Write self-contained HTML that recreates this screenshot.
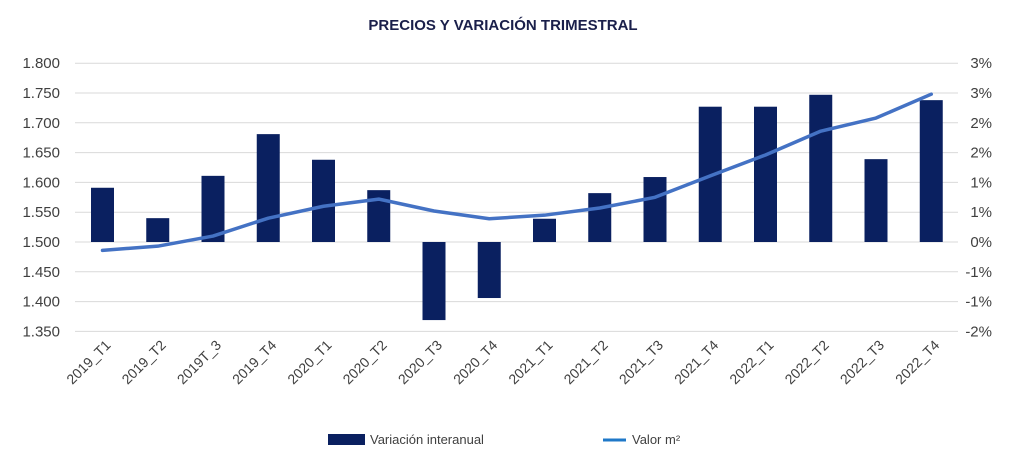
<!DOCTYPE html>
<html><head><meta charset="utf-8"><style>
body{margin:0;background:#fff;}
svg{display:block;font-family:"Liberation Sans","DejaVu Sans",sans-serif;}
</style></head><body>
<svg width="1019" height="472" viewBox="0 0 1019 472">
<text x="503" y="30" text-anchor="middle" font-size="15" font-weight="bold" fill="#1a1f4a">PRECIOS Y VARIACIÓN TRIMESTRAL</text>
<g id="grid"></g><g id="bars"></g><g id="line"></g><g id="axes"></g>
<g>
<rect x="328" y="434" width="37" height="11" fill="#0a2060"/>
<text x="370" y="444" font-size="13" fill="#404040">Variación interanual</text>
<line x1="603" y1="440" x2="626" y2="440" stroke="#1f78c8" stroke-width="3"/>
<text x="632" y="444" font-size="13" fill="#404040">Valor m²</text>
</g>
</svg>
<script>
const categories=["2019_T1","2019_T2","2019T_3","2019_T4","2020_T1","2020_T2","2020_T3","2020_T4","2021_T1","2021_T2","2021_T3","2021_T4","2022_T1","2022_T2","2022_T3","2022_T4"];
const variation=[0.91,0.40,1.11,1.81,1.38,0.87,-1.31,-0.94,0.39,0.82,1.09,2.27,2.27,2.47,1.39,2.38];
const price=[1486,1493,1510,1540,1560,1572,1552,1539,1545,1557,1575,1611,1646,1686,1708,1748];
const leftTicks=[1350,1400,1450,1500,1550,1600,1650,1700,1750,1800];
const leftTickLabels=["1.350","1.400","1.450","1.500","1.550","1.600","1.650","1.700","1.750","1.800"];
const rightTicks=[-1.5,-1,-0.5,0,0.5,1,1.5,2,2.5,3];
const rightTickLabels=["-2%","-1%","-1%","0%","1%","1%","2%","2%","3%","3%"];
const NS="http://www.w3.org/2000/svg";
const yL=v=>242-(v-1500)/50*29.8;
const yR=v=>242-v*59.6;
const xC=i=>102.5+i*55.25;
function mk(tag,attrs,parent){const e=document.createElementNS(NS,tag);for(const k in attrs)e.setAttribute(k,attrs[k]);document.getElementById(parent).appendChild(e);return e;}
leftTicks.forEach((t,i)=>{
 const g=mk('line',{x1:75,x2:958,y1:yL(t),y2:yL(t),stroke:'#d9d9d9','stroke-width':1},'grid');
 
 
 const l=mk('text',{x:60,y:yL(t)+5,'text-anchor':'end','font-size':15,fill:'#404040'},'axes');
 l.textContent=leftTickLabels[i];
 
 
});
rightTicks.forEach((t,i)=>{
 const l=mk('text',{x:992,y:yR(t)+5,'text-anchor':'end','font-size':15,fill:'#404040'},'axes');
 l.textContent=rightTickLabels[i];
 
 
});
variation.forEach((v,i)=>{
 const y0=yR(0),y1=yR(v);
 const b=mk('rect',{x:xC(i)-11.5,y:Math.min(y0,y1),width:23,height:Math.abs(y1-y0),fill:'#0a2060'},'bars');
 
 
});
const p=mk('polyline',{points:price.map((v,i)=>xC(i)+','+yL(v)).join(' '),fill:'none',stroke:'#4472c4','stroke-width':3.5,'stroke-linejoin':'round','stroke-linecap':'round'},'line');


categories.forEach((c,i)=>{
 const x=xC(i)+9,y=346;
 const t=mk('text',{x:x,y:y,'text-anchor':'end','font-size':14,fill:'#404040',transform:'rotate(-45 '+x+' '+y+')'},'axes');
 t.textContent=c;
 
 
});
</script>
</body></html>
